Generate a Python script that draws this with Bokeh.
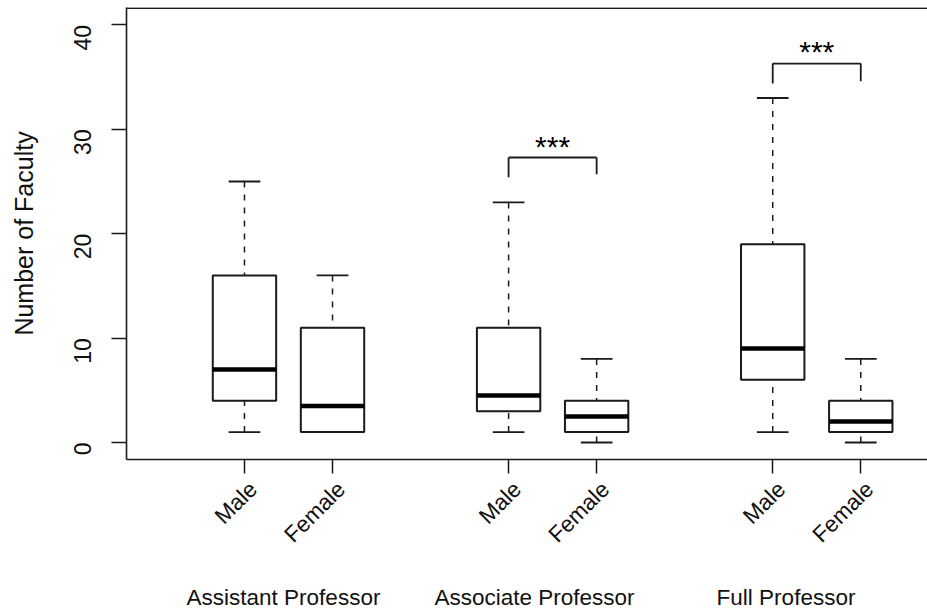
import math
from bokeh.plotting import figure
from bokeh.models import (FixedTicker, Range1d, Span, ColumnDataSource, LinearAxis,
                          CustomLabelingPolicy)
from bokeh.embed import file_html
from bokeh.resources import INLINE
from bokeh.core.properties import value

# ---------------- data ----------------
ranks = ["Assistant Professor", "Associate Professor", "Full Professor"]
sexes = ["Male", "Female", "Male", "Female", "Male", "Female"]
positions = [1, 2, 4, 5, 7, 8]
whisker_low = [1, 1, 1, 0, 1, 0]
q1 = [4, 1, 3, 1, 6, 1]
median = [7, 3.5, 4.5, 2.5, 9, 2]
q3 = [16, 11, 11, 4, 19, 4]
whisker_high = [25, 16, 23, 8, 33, 8]

# significance brackets (Associate, Full)
sig_left = [4, 7]
sig_right = [5, 8]
sig_top = [27.3, 36.3]
sig_left_end = [25.4, 34.4]
sig_right_end = [25.7, 34.6]
sig_text = ["***", "***"]
sig_text_y = [28.4, 37.5]

y_ticks = [0, 10, 20, 30, 40]

# ---------------- layout / style ----------------
FONT = "Liberation Sans"
INK = "#1a1a1a"
TXT = "#111111"
BOX_W = 0.72
CAP_W = 0.36
LABEL_SHIFT = 0.1          # rotated tick labels sit slightly right of their tick
rank_label_x = [1.443, 4.294, 7.151]

Y0, Y1 = -1.63, 41.67
p = figure(width=927, height=612, output_backend="svg", toolbar_location=None,
           x_range=Range1d(-0.340, 8.758), y_range=Range1d(Y0, Y1),
           min_border_left=126, min_border_right=0, min_border_top=7,
           min_border_bottom=153)
p.xgrid.visible = False
p.ygrid.visible = False
p.outline_line_color = None
p.background_fill_color = "white"
p.border_fill_color = "white"

src = ColumnDataSource(dict(
    x=positions,
    lo=whisker_low, q1=q1, med=median, q3=q3, hi=whisker_high,
    left=[x - BOX_W / 2 for x in positions],
    right=[x + BOX_W / 2 for x in positions],
    cl=[x - CAP_W / 2 for x in positions],
    cr=[x + CAP_W / 2 for x in positions],
))

# whiskers (drawn from cap toward box)
p.segment(x0="x", y0="hi", x1="x", y1="q3", source=src, line_color=INK,
          line_width=1.5, line_dash="6 7")
p.segment(x0="x", y0="lo", x1="x", y1="q1", source=src, line_color=INK,
          line_width=1.5, line_dash="6 7")
# caps
p.segment(x0="cl", y0="hi", x1="cr", y1="hi", source=src, line_color=INK, line_width=1.8)
p.segment(x0="cl", y0="lo", x1="cr", y1="lo", source=src, line_color=INK, line_width=1.8)
# boxes
p.quad(left="left", right="right", bottom="q1", top="q3", source=src,
       fill_color="white", line_color=INK, line_width=2)
# medians
p.segment(x0="left", y0="med", x1="right", y1="med", source=src,
          line_color="black", line_width=4.5, line_cap="butt")

# significance brackets
bsrc = ColumnDataSource(dict(
    l=sig_left, r=sig_right, top=sig_top, le=sig_left_end, re=sig_right_end,
    mid=[(a + b) / 2 for a, b in zip(sig_left, sig_right)], txt=sig_text,
    ty=sig_text_y,
))
p.segment(x0="l", y0="top", x1="r", y1="top", source=bsrc, line_color=INK, line_width=1.8)
p.segment(x0="l", y0="top", x1="l", y1="le", source=bsrc, line_color=INK, line_width=1.8)
p.segment(x0="r", y0="top", x1="r", y1="re", source=bsrc, line_color=INK, line_width=1.8)
p.text(x="mid", y="ty", text="txt", source=bsrc, text_font=value(FONT),
       text_font_size="30px", text_align="center", text_baseline="alphabetic",
       text_color="black")

# top border of the box
p.add_layout(Span(location=Y1 - 0.06, dimension="width", line_color=INK, line_width=1.6))

# ---- x axis: line + ticks only ----
xa = p.xaxis[0]
xa.ticker = FixedTicker(ticks=positions)
xa.major_label_policy = CustomLabelingPolicy(
    code="for (const i of Array.from(indices)) { indices.unset(i) }; return indices")
xa.major_label_text_font_size = "0px"
xa.major_label_standoff = 0
xa.major_tick_in = 0
xa.major_tick_out = 14
xa.minor_tick_line_color = None
xa.minor_tick_out = 0
xa.axis_line_width = 1.6
xa.axis_line_color = INK
xa.major_tick_line_width = 1.5
xa.major_tick_line_color = INK

# ---- rotated Male / Female labels ----
xb = LinearAxis(ticker=FixedTicker(ticks=[x + LABEL_SHIFT for x in positions]))
xb.major_label_overrides = {x + LABEL_SHIFT: s for x, s in zip(positions, sexes)}
xb.major_label_orientation = math.pi / 4
xb.axis_line_color = None
xb.major_tick_line_color = None
xb.minor_tick_line_color = None
xb.major_tick_out = 0
xb.major_tick_in = 0
xb.minor_tick_out = 0
xb.major_label_text_font = FONT
xb.major_label_text_font_size = "22.5px"
xb.major_label_text_color = TXT
xb.major_label_standoff = 12
p.add_layout(xb, "below")

# ---- rank (group) labels ----
xc = LinearAxis(ticker=FixedTicker(ticks=rank_label_x))
xc.major_label_overrides = {x: s for x, s in zip(rank_label_x, ranks)}
xc.major_label_orientation = "horizontal"
xc.axis_line_color = None
xc.major_tick_line_color = None
xc.minor_tick_line_color = None
xc.major_tick_out = 0
xc.major_tick_in = 0
xc.minor_tick_out = 0
xc.major_label_text_font = FONT
xc.major_label_text_font_size = "22.5px"
xc.major_label_text_color = TXT
xc.major_label_standoff = 25
p.add_layout(xc, "below")

# ---- y axis ----
ya = p.yaxis[0]
ya.ticker = FixedTicker(ticks=y_ticks)
ya.major_label_orientation = math.pi / 2
ya.major_tick_in = 0
ya.major_tick_out = 15
ya.minor_tick_line_color = None
ya.axis_line_width = 1.6
ya.axis_line_color = INK
ya.major_tick_line_width = 1.5
ya.major_tick_line_color = INK
ya.major_label_text_font = FONT
ya.major_label_text_font_size = "23px"
ya.major_label_text_color = TXT
ya.major_label_standoff = 29
ya.axis_label = "Number of Faculty"
ya.axis_label_text_font = FONT
ya.axis_label_text_font_size = "25px"
ya.axis_label_text_font_style = "normal"
ya.axis_label_text_color = TXT
ya.axis_label_standoff = 25

open("out.html", "w").write(file_html(p, INLINE))
